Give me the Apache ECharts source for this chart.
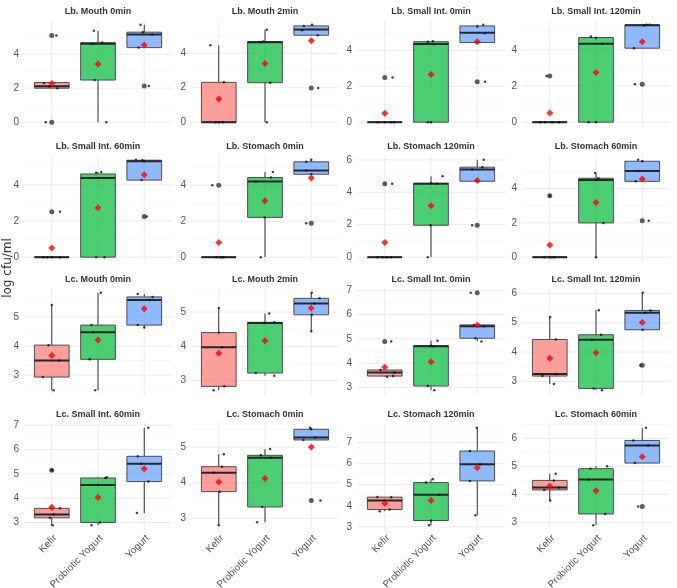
<!DOCTYPE html>
<html>
<head>
<meta charset="utf-8">
<script src="https://cdn.jsdelivr.net/npm/echarts@6/dist/echarts.min.js"></script>
<style>
  html, body { margin: 0; padding: 0; background: #fff; }
  #main { width: 677px; height: 588px; }
</style>
</head>
<body>
<div id="main"></div>
<script>
// groups on the x axis of every panel
var groups = ['Kefir', 'Probiotic Yogurt', 'Yogurt'];

var panelTitles = [
  'Lb. Mouth 0min', 'Lb. Mouth 2min', 'Lb. Small Int. 0min', 'Lb. Small Int. 120min',
  'Lb. Small Int. 60min', 'Lb. Stomach 0min', 'Lb. Stomach 120min', 'Lb. Stomach 60min',
  'Lc. Mouth 0min', 'Lc. Mouth 2min', 'Lc. Small Int. 0min', 'Lc. Small Int. 120min',
  'Lc. Small Int. 60min', 'Lc. Stomach 0min', 'Lc. Stomach 120min', 'Lc. Stomach 60min'
];

// y tick labels per panel
var yTicks = [
  [0, 2, 4], [0, 2, 4], [0, 2, 4], [0, 2, 4],
  [0, 2, 4], [0, 2, 4], [0, 2, 4, 6], [0, 2, 4],
  [3, 4, 5], [3, 4, 5], [3, 4, 5, 6, 7], [3, 4, 5, 6],
  [3, 4, 5, 6, 7], [3, 4, 5], [3, 4, 5, 6, 7], [3, 4, 5, 6]
];

// box stats per panel: [lower whisker, q1, median, q3, upper whisker] for Kefir, Probiotic Yogurt, Yogurt
var boxStats = [
  [[2.0, 2.0, 2.12, 2.33, 2.33], [0, 2.48, 4.62, 4.68, 5.38], [4.39, 4.39, 5.16, 5.3, 5.73]],
  [[0, 0, 0, 2.31, 4.47], [0, 2.29, 4.64, 4.68, 5.36], [5.05, 5.05, 5.38, 5.59, 5.65]],
  [[0, 0, 0, 0, 0], [0, 0, 4.37, 4.5, 4.52], [4.45, 4.45, 5.0, 5.38, 5.44]],
  [[0, 0, 0, 0, 0], [0, 0, 4.33, 4.68, 4.73], [4.09, 4.09, 5.36, 5.38, 5.38]],
  [[0, 0, 0, 0, 0], [0, 0, 4.37, 4.6, 4.71], [4.26, 4.26, 5.3, 5.36, 5.38]],
  [[0, 0, 0, 0, 0], [0, 2.21, 4.2, 4.43, 4.74], [4.61, 4.61, 4.82, 5.3, 5.41]],
  [[0, 0, 0, 0, 0], [0, 1.97, 4.53, 4.55, 4.99], [4.68, 4.68, 5.4, 5.55, 6.0]],
  [[0, 0, 0, 0, 0], [0, 1.99, 4.49, 4.59, 4.9], [4.41, 4.41, 5.01, 5.58, 5.66]],
  [[2.48, 2.93, 3.5, 4.03, 5.41], [2.48, 3.54, 4.47, 4.72, 5.83], [4.64, 4.72, 5.58, 5.69, 5.79]],
  [[2.72, 2.83, 3.97, 4.4, 5.12], [3.14, 3.22, 4.68, 4.7, 4.96], [4.44, 4.92, 5.25, 5.4, 5.56]],
  [[3.44, 3.47, 3.62, 3.72, 3.72], [2.89, 3.06, 4.7, 4.72, 4.93], [4.9, 5.03, 5.52, 5.58, 5.58]],
  [[2.91, 3.18, 3.25, 4.43, 5.2], [2.7, 2.76, 4.42, 4.59, 5.43], [4.76, 4.76, 5.34, 5.42, 6.02]],
  [[2.89, 3.19, 3.33, 3.58, 3.58], [2.89, 3.0, 4.54, 4.83, 4.86], [3.39, 4.68, 5.41, 5.72, 6.89]],
  [[2.81, 3.75, 4.28, 4.45, 4.8], [2.89, 3.32, 4.7, 4.77, 4.95], [5.2, 5.2, 5.27, 5.5, 5.54]],
  [[3.74, 3.82, 4.25, 4.41, 4.42], [3.08, 3.3, 4.52, 5.1, 5.26], [3.55, 5.18, 5.97, 6.6, 7.7]],
  [[3.78, 4.16, 4.25, 4.5, 4.74], [2.9, 3.3, 4.53, 4.92, 5.01], [5.12, 5.12, 5.75, 5.93, 6.38]]
];

// group means (red diamonds)
var means = [
  [2.28, 3.43, 4.55], [1.35, 3.4, 4.72], [0.5, 2.67, 4.49], [0.51, 2.74, 4.45],
  [0.5, 2.73, 4.56], [0.82, 3.13, 4.4], [0.9, 3.17, 4.72], [0.71, 3.18, 4.55],
  [3.67, 4.21, 5.28], [3.8, 4.16, 5.11], [3.83, 4.06, 5.58], [3.79, 3.98, 5.01],
  [3.63, 4.03, 5.21], [4.02, 4.12, 5.0], [4.12, 4.25, 5.8], [4.29, 4.13, 5.35]
];

// outliers: [group index, value]
var outliers = [
  [[0, 5.1], [0, 0], [2, 2.13]],
  [[2, 1.98]],
  [[0, 2.5], [2, 2.26]],
  [[0, 2.55], [2, 2.09]],
  [[0, 2.51], [2, 2.25]],
  [[0, 4.0], [2, 1.88]],
  [[0, 4.53], [2, 1.97]],
  [[0, 3.57], [2, 2.11]],
  [],
  [],
  [[0, 4.9], [2, 6.9]],
  [[2, 3.55]],
  [[0, 5.15]],
  [[2, 3.5]],
  [],
  [[2, 3.57]]
];

// jittered raw points per panel and group: [jitter offset, value]
var points = [
  [[[-0.17, 2.3], [-0.05, 2.1], [0.12, 2.0], [0.1, 5.1], [-0.13, 0]],
   [[-0.09, 5.38], [-0.12, 4.6], [0.09, 4.69], [-0.07, 2.48], [0.18, 0]],
   [[-0.08, 5.73], [-0.03, 5.3], [0.17, 5.16], [-0.12, 4.39], [0.1, 2.13]]],
  [[[-0.18, 4.47], [0.11, 2.31], [-0.07, 0], [0, 0], [0.09, 0]],
   [[0.04, 5.36], [-0.04, 4.68], [-0.1, 4.64], [0.11, 2.29], [0.04, 0]],
   [[-0.16, 5.59], [0.02, 5.65], [-0.2, 5.34], [0.14, 5.05], [0.15, 1.98]]],
  [[[0.17, 2.5], [-0.15, 0], [0.13, 0], [0.2, 0], [0, 0]],
   [[-0.07, 4.49], [0.04, 4.52], [0.07, 4.36], [-0.07, 0], [0, 0]],
   [[0, 5.35], [0.13, 5.44], [0.16, 4.97], [-0.01, 4.45], [0.17, 2.26]]],
  [[[-0.07, 2.55], [-0.2, 0], [-0.1, 0], [0.2, 0], [0.05, 0]],
   [[-0.11, 4.73], [0, 4.66], [0.14, 4.33], [-0.16, 0], [0, 0]],
   [[-0.18, 4.09], [0.09, 5.38], [0.16, 5.38], [0.04, 5.34], [-0.16, 2.09]]],
  [[[0.18, 2.51], [-0.18, 0], [0, 0], [0.18, 0], [-0.1, 0]],
   [[-0.04, 4.67], [0.07, 4.71], [0, 4.37], [-0.04, 0], [0.14, 0]],
   [[-0.18, 5.38], [-0.04, 5.36], [0, 5.3], [-0.06, 4.26], [0.05, 2.25]]],
  [[[-0.14, 4.0], [0.04, 0], [0.11, 0], [-0.05, 0], [0.08, 0]],
   [[0.17, 4.74], [0.13, 4.43], [-0.2, 4.2], [-0.01, 2.21], [-0.09, 0]],
   [[-0.11, 5.3], [0, 5.41], [-0.11, 4.82], [0, 4.61], [-0.11, 1.88]]],
  [[[0.16, 4.53], [-0.16, 0], [0.14, 0], [0.05, 0], [-0.05, 0]],
   [[0.25, 4.99], [0.13, 4.53], [0, 4.55], [-0.01, 1.97], [-0.07, 0]],
   [[0.14, 6.0], [-0.11, 5.4], [0.11, 5.55], [0, 4.68], [-0.11, 1.97]]],
  [[[0, 3.57], [-0.12, 0], [0, 0], [0.11, 0], [0.05, 0]],
   [[-0.02, 4.9], [0.05, 4.59], [0.01, 4.49], [0.16, 1.99], [0, 0]],
   [[-0.09, 5.66], [0, 5.58], [-0.09, 5.01], [-0.14, 4.41], [0.14, 2.11]]],
  [[[0, 5.41], [-0.07, 4.03], [0.16, 3.5], [-0.19, 2.93], [0.04, 2.48]],
   [[0.06, 5.83], [-0.14, 4.72], [-0.11, 4.47], [-0.18, 3.54], [-0.06, 2.48]],
   [[-0.14, 5.79], [0.18, 5.69], [0.11, 5.58], [-0.14, 4.72], [0, 4.64]]],
  [[[0, 5.12], [0, 4.4], [0.07, 3.97], [0.12, 2.83], [-0.11, 2.72]],
   [[0.09, 4.96], [0.2, 4.7], [-0.02, 4.68], [-0.2, 3.22], [0.2, 3.14]],
   [[0.01, 5.56], [0.18, 5.4], [0.07, 5.25], [0.01, 4.92], [0, 4.44]]],
  [[[0.14, 4.9], [-0.09, 3.72], [0.21, 3.62], [0.18, 3.47], [0.05, 3.44]],
   [[0.14, 4.93], [0, 4.72], [0.05, 4.7], [-0.07, 3.06], [0.07, 2.89]],
   [[-0.14, 6.9], [-0.07, 5.58], [0.14, 5.52], [-0.04, 5.03], [0.09, 4.9]]],
  [[[0.01, 5.2], [0.13, 4.43], [0.13, 3.25], [-0.16, 3.18], [0.09, 2.91]],
   [[0.06, 5.43], [0.11, 4.59], [-0.09, 4.42], [-0.05, 2.76], [0.13, 2.7]],
   [[0.01, 6.02], [0.18, 5.42], [0.06, 5.34], [0.01, 4.76], [-0.04, 3.55]]],
  [[[0, 5.15], [0.18, 3.58], [0.04, 3.33], [-0.04, 3.19], [0.02, 2.89]],
   [[0.16, 4.83], [0.19, 4.86], [0, 4.54], [0.04, 3.0], [-0.14, 2.89]],
   [[0.09, 6.89], [-0.14, 5.72], [-0.07, 5.41], [0.09, 4.68], [-0.16, 3.39]]],
  [[[0.11, 4.8], [0.07, 4.45], [-0.11, 4.28], [0.02, 3.75], [0, 2.81]],
   [[0.11, 4.95], [-0.09, 4.77], [0.12, 4.7], [-0.06, 3.32], [-0.17, 2.89]],
   [[-0.03, 5.54], [0.09, 5.27], [-0.17, 5.2], [0, 5.5], [0.2, 3.5]]],
  [[[-0.16, 4.42], [0.14, 4.41], [0, 4.25], [-0.11, 3.74], [0.11, 3.82]],
   [[0.04, 5.26], [-0.11, 5.1], [0.18, 4.52], [0, 3.3], [-0.04, 3.08]],
   [[-0.01, 7.7], [-0.16, 6.6], [0.06, 5.97], [-0.16, 5.18], [-0.04, 3.55]]],
  [[[0.13, 4.74], [0.09, 4.5], [0.2, 4.25], [-0.12, 4.16], [0.01, 3.78]],
   [[0.24, 5.01], [-0.12, 4.92], [-0.16, 4.53], [0.2, 3.3], [-0.06, 2.9]],
   [[0.08, 6.38], [-0.19, 5.93], [0.13, 5.75], [-0.16, 5.12], [-0.09, 3.57]]]
];

var fills = ['rgba(248,118,109,0.7)', 'rgba(0,186,56,0.7)', 'rgba(97,156,255,0.7)'];
var FONT = '"Liberation Sans", Arial, sans-serif';

var colLeft = [24, 191, 357, 522];
var rowTop = [20, 155, 288, 423];
var panelW = 148, panelH = 107;

var chart = echarts.init(document.getElementById('main'));

var grids = [], xAxes = [], yAxes = [], series = [], graphics = [];

function boxRender(params, api) {
  var x = api.value(0);
  var w = api.size([0.75, 0])[0];
  var lo = api.coord([x, api.value(1)]);
  var q1 = api.coord([x, api.value(2)]);
  var md = api.coord([x, api.value(3)]);
  var q3 = api.coord([x, api.value(4)]);
  var hi = api.coord([x, api.value(5)]);
  var l = q1[0] - w / 2;
  return {
    type: 'group',
    children: [
      { type: 'line', shape: { x1: lo[0], y1: lo[1], x2: q1[0], y2: q1[1] }, style: { stroke: '#333', lineWidth: 1 } },
      { type: 'line', shape: { x1: q3[0], y1: q3[1], x2: hi[0], y2: hi[1] }, style: { stroke: '#333', lineWidth: 1 } },
      { type: 'rect', shape: { x: l, y: q3[1], width: w, height: q1[1] - q3[1] },
        style: { fill: fills[params.dataIndex], stroke: '#4d4d4d', lineWidth: 1 } },
      { type: 'line', shape: { x1: l, y1: md[1], x2: l + w, y2: md[1] }, style: { stroke: '#262626', lineWidth: 2 } }
    ]
  };
}

function gridRender(params, api) {
  var cs = params.coordSys;
  var dim = api.value(0), v = api.value(1), major = api.value(2);
  var style = { stroke: major ? '#ebebeb' : '#f4f4f4', lineWidth: major ? 1 : 0.6 };
  if (dim === 1) {
    var py = api.coord([1, v])[1];
    return { type: 'line', shape: { x1: cs.x, y1: py, x2: cs.x + cs.width, y2: py }, style: style };
  }
  var px = api.coord([v, 0])[0];
  return { type: 'line', shape: { x1: px, y1: cs.y, x2: px, y2: cs.y + cs.height }, style: style };
}

panelTitles.forEach(function (title, i) {
  var col = i % 4, row = Math.floor(i / 4);
  grids.push({ left: colLeft[col], top: rowTop[row], width: panelW, height: panelH,
    containLabel: false, outerBoundsMode: 'none' });

  // y range from the data, expanded 5% like ggplot
  var all = [];
  boxStats[i].forEach(function (b) { all = all.concat(b); });
  points[i].forEach(function (g) { g.forEach(function (p) { all.push(p[1]); }); });
  outliers[i].forEach(function (o) { all.push(o[1]); });
  means[i].forEach(function (m) { all.push(m); });
  var lo = Math.min.apply(null, all), hi = Math.max.apply(null, all);
  var pad = (hi - lo) * 0.05;
  var ymin = lo - pad, ymax = hi + pad;

  xAxes.push({
    type: 'value', gridIndex: i, min: 0.4, max: 3.6,
    axisLine: { show: false }, axisTick: { show: false }, splitLine: { show: false },
    axisLabel: {
      show: row === 3, customValues: [1, 2, 3], rotate: 45, margin: 3, verticalAlign: 'top',
      fontSize: 10, color: '#555', fontFamily: FONT,
      formatter: function (v) { return groups[Math.round(v) - 1]; }
    }
  });
  yAxes.push({
    type: 'value', gridIndex: i, min: ymin, max: ymax,
    axisLine: { show: false }, axisTick: { show: false }, splitLine: { show: false },
    axisLabel: { customValues: yTicks[i], margin: 5, fontSize: 10, color: '#555', fontFamily: FONT,
      formatter: function (v) { return String(v); } }
  });

  // gridlines: major at ticks, minor halfway
  var t = yTicks[i], step = t.length > 1 ? t[1] - t[0] : 1;
  var lines = [];
  t.forEach(function (v) { lines.push([1, v, 1]); });
  for (var k = -1; k < t.length; k++) {
    var mv = t[0] + step * k + step / 2;
    if (mv > ymin && mv < ymax) lines.push([1, mv, 0]);
  }
  [1, 2, 3].forEach(function (v) { lines.push([0, v, 1]); });
  series.push({ type: 'custom', xAxisIndex: i, yAxisIndex: i, z: 1, silent: true,
    renderItem: gridRender, data: lines, encode: { x: -1, y: -1 }, animation: false });

  series.push({
    type: 'custom', xAxisIndex: i, yAxisIndex: i, z: 3, silent: true, animation: false,
    renderItem: boxRender, encode: { x: 0, y: [1, 2, 3, 4, 5] },
    data: boxStats[i].map(function (b, g) { return [g + 1].concat(b); })
  });

  series.push({
    type: 'scatter', xAxisIndex: i, yAxisIndex: i, z: 4, silent: true, animation: false,
    symbolSize: 5, itemStyle: { color: '#4d4d4d', opacity: 0.9 },
    data: outliers[i].map(function (o) { return [o[0] + 1, o[1]]; })
  });

  var pts = [];
  points[i].forEach(function (g, gi) { g.forEach(function (p) { pts.push([gi + 1 + p[0], p[1]]); }); });
  series.push({
    type: 'scatter', xAxisIndex: i, yAxisIndex: i, z: 5, silent: true, animation: false,
    symbolSize: 2.5, itemStyle: { color: '#111' }, data: pts
  });

  series.push({
    type: 'scatter', xAxisIndex: i, yAxisIndex: i, z: 6, silent: true, animation: false,
    symbol: 'diamond', symbolSize: 7, itemStyle: { color: '#ff0000' },
    data: means[i].map(function (m, g) { return [g + 1, m]; })
  });

  graphics.push({
    type: 'text', x: colLeft[col] + panelW / 2, y: rowTop[row] - 8,
    style: { text: title, font: 'bold 9px ' + FONT, fill: '#333', textAlign: 'center', textVerticalAlign: 'middle' }
  });
});

graphics.push({
  type: 'text', x: 8, y: 268, rotation: Math.PI / 2,
  style: { text: 'log cfu/ml', font: '12px "DejaVu Sans", sans-serif', fill: '#333', textAlign: 'center', textVerticalAlign: 'middle' }
});

chart.setOption({
  animation: false,
  backgroundColor: '#fff',
  grid: grids,
  xAxis: xAxes,
  yAxis: yAxes,
  series: series,
  graphic: graphics
});
</script>
</body>
</html>
